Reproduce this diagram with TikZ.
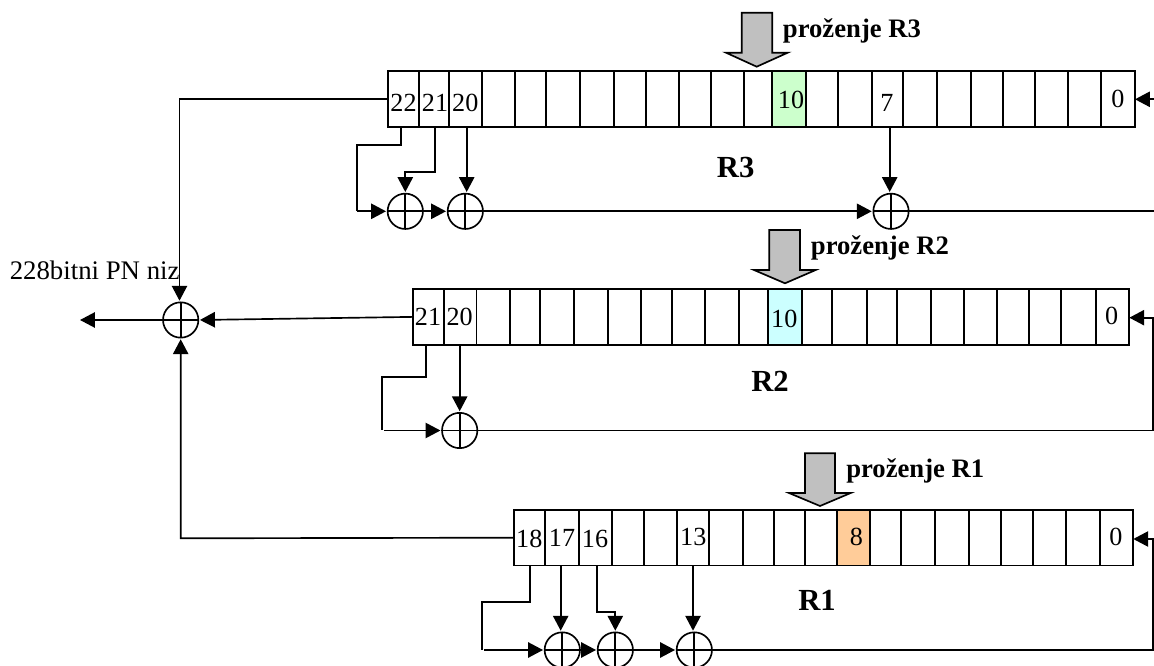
\documentclass[tikz,border=0pt]{standalone}
\usepackage{fontspec}
\setmainfont{Liberation Serif}
\usetikzlibrary{arrows.meta}
\newcommand{\regfont}{\fontsize{19.6}{22}\selectfont}
\newcommand{\pnfont}{\fontsize{20.1}{22}\selectfont}
\newcommand{\trigfont}{\fontsize{20}{23}\bfseries\selectfont}
\newcommand{\namefont}{\fontsize{23}{27}\bfseries\selectfont}
\definecolor{bitorange}{HTML}{FFCC99}
\definecolor{bitgreen}{HTML}{CCFFCC}
\definecolor{bitcyan}{HTML}{CCFFFF}
\definecolor{triggray}{HTML}{C0C0C0}
\tikzset{
  x=0.75pt,y=-0.75pt,
  wire/.style={line width=1.25pt,line join=miter},
  arrowwire/.style={wire,-{Triangle[length=11.2pt,width=11.5pt]},shorten >=1.2pt},
  cellbox/.style={draw,line width=1.25pt,inner sep=0pt,outer sep=0pt},
  xorgate/.style={circle,draw,line width=1.25pt,minimum size=26.5pt,inner sep=0pt,outer sep=0pt,
    path picture={\draw[line width=1.25pt]
      (path picture bounding box.north)--(path picture bounding box.south)
      (path picture bounding box.west)--(path picture bounding box.east);}},
  trigarrow/.style={draw,line width=1.25pt,fill=triggray,line join=miter},
  numlabel/.style={anchor=base,inner sep=0pt,font=\regfont},
  triglabel/.style={anchor=base west,inner sep=0pt,font=\trigfont},
  namelabel/.style={anchor=base,inner sep=0pt,font=\namefont},
}
\begin{document}
\begin{tikzpicture}
\path[use as bounding box,clip] (0,0) rectangle (1154,666);
\fill[white] (0,0) rectangle (1154,666);

% ---- registers: cells as named nodes
\foreach \xa/\xb/\k/\col in {
 388/418.7/22/white,418.7/449.3/21/white,449.3/481.7/20/white,481.7/515.3/19/white,515.3/546.3/18/white,
 546.3/579.7/17/white,579.7/613.7/16/white,613.7/646/15/white,646/678.7/14/white,678.7/710.7/13/white,
 710.7/744.3/12/white,744.3/772.3/11/white,772.3/805.7/10/bitgreen,805.7/838.3/9/white,838.3/872.3/8/white,
 872.3/902.7/7/white,902.7/936.7/6/white,936.7/970.7/5/white,970.7/1002.7/4/white,1002.7/1035/3/white,
 1035/1067.7/2/white,1067.7/1101.3/1/white,1101.3/1135/0/white}
  \node[cellbox,fill=\col,minimum width={(\xb-\xa)*0.75pt},minimum height={56*0.75pt}]
    (r3c\k) at ({(\xa+\xb)/2},98.7) {};
\foreach \xa/\xb/\k/\col in {
 412.7/443.7/21/white,443.7/476.5/20/white,476.5/510/19/white,510/540.3/18/white,540.3/574/17/white,
 574/607.7/16/white,607.7/640.7/15/white,640.7/672.3/14/white,672.3/705.3/13/white,705.3/738.7/12/white,
 738.7/767.7/11/white,767.7/801.7/10/bitcyan,801.7/832.3/9/white,832.3/866.7/8/white,866.7/896.7/7/white,
 896.7/930.7/6/white,930.7/964.3/5/white,964.3/997.3/4/white,997.3/1028.7/3/white,1028.7/1061.3/2/white,
 1061.3/1096/1/white,1096/1129.3/0/white}
  \node[cellbox,fill=\col,minimum width={(\xb-\xa)*0.75pt},minimum height={55.7*0.75pt}]
    (r2c\k) at ({(\xa+\xb)/2},316.9) {};
\foreach \xa/\xb/\k/\col in {
 513.7/544.7/18/white,544.7/578.7/17/white,578.7/612/16/white,612/644.3/15/white,644.3/677/14/white,
 677/709/13/white,709/742.7/12/white,742.7/773.7/11/white,773.7/805/10/white,805/837.2/9/white,
 837.2/870.3/8/bitorange,870.3/901.3/7/white,901.3/934.7/6/white,934.7/969/5/white,969/1001.3/4/white,
 1001.3/1033.3/3/white,1033.3/1065.7/2/white,1065.7/1100/1/white,1100/1133.3/0/white}
  \node[cellbox,fill=\col,minimum width={(\xb-\xa)*0.75pt},minimum height={55.3*0.75pt}]
    (r1c\k) at ({(\xa+\xb)/2},537.7) {};

% ---- cell numbers
\node[numlabel] (t322) at (403.5,111.7) {22};
\node[numlabel] (t321) at (435,111.7) {21};
\node[numlabel] (t320) at (465.3,111.7) {20};
\node[numlabel] (t310) at (791,109) {10};
\node[numlabel] (t37) at (887,111.7) {7};
\node[numlabel] (t30) at (1118,107.3) {0};
\node[numlabel] (t221) at (428,325.7) {21};
\node[numlabel] (t220) at (459.7,325.7) {20};
\node[numlabel] (t210) at (784.3,327.3) {10};
\node[numlabel] (t20) at (1111.7,325) {0};
\node[numlabel] (t118) at (529.3,547.3) {18};
\node[numlabel] (t117) at (562,546.7) {17};
\node[numlabel] (t116) at (595,547.3) {16};
\node[numlabel] (t113) at (693.3,546) {13};
\node[numlabel] (t18) at (856.3,546) {8};
\node[numlabel] (t10) at (1116,546) {0};

% ---- register names and trigger labels
\node[namelabel] (nr3) at (735.7,177.7) {R3};
\node[namelabel] (nr2) at (770,391.7) {R2};
\node[namelabel] (nr1) at (817,610.7) {R1};
\node[triglabel] (tr3) at (782.7,38) {proženje R3};
\node[triglabel] (tr2) at (810.7,255) {proženje R2};
\node[triglabel] (tr1) at (846,478) {proženje R1};
\node[anchor=base west,inner sep=0pt,font=\pnfont] (pn) at (9.5,279.3) {228bitni PN niz};

% ---- trigger arrows
\draw[trigarrow] (741.7,12.7)--(772.3,12.7)--(772.3,52.7)--(787.7,52.7)--(756.7,66.7)--(726,52.7)--(741.7,52.7)--cycle;
\draw[trigarrow] (769.3,230)--(800,230)--(800,270)--(815.7,270)--(785,283.3)--(754,270)--(769.3,270)--cycle;
\draw[trigarrow] (805,453.3)--(835,453.3)--(835,493)--(850.7,493)--(820,506)--(789,493)--(805,493)--cycle;

% ---- XOR gates
\node[xorgate] (xm) at (180.7,320) {};
\node[xorgate] (x3a) at (405.3,211.3) {};
\node[xorgate] (x3b) at (465.3,211.3) {};
\node[xorgate] (x3c) at (891,211.3) {};
\node[xorgate] (x2a) at (459.7,430.5) {};
\node[xorgate] (x1a) at (562.3,650) {};
\node[xorgate] (x1b) at (615.3,650) {};
\node[xorgate] (x1c) at (694.3,650) {};

% ---- free ends and bends
\coordinate (out3) at (179.5,98.7);
\coordinate (outm) at (80,320);
\coordinate (in1) at (180.7,538.3);
\coordinate (a3) at (401,145);
\coordinate (b3) at (356.7,145);
\coordinate (c3) at (356.7,211.3);
\coordinate (d3) at (435,171.7);
\coordinate (e3) at (405.3,171.7);
\coordinate (k20) at (466.7,193.6);
\coordinate (k7) at (889.7,193.6);
\coordinate (f3) at (1154,211.3);
\coordinate (g3) at (1154,99.3);
\coordinate (a2) at (426,376.7);
\coordinate (b2) at (381.7,376.7);
\coordinate (c2) at (381.7,430);
\coordinate (s2) at (384.3,430.5);
\coordinate (f2) at (1152.7,430.5);
\coordinate (g2) at (1152.7,317.7);
\coordinate (h2) at (1129.3,317.7);
\coordinate (a1) at (530.3,601.7);
\coordinate (b1) at (481.7,601.7);
\coordinate (c1) at (481.7,650);
\coordinate (s1) at (484.3,650);
\coordinate (d1) at (597.3,611.7);
\coordinate (e1) at (615.3,611.7);
\coordinate (k17) at (560.7,632.3);
\coordinate (k13) at (693,632.3);
\coordinate (f1) at (1152.7,650);
\coordinate (g1) at (1152.7,539);

% ---- main combiner
\draw[arrowwire] (r3c22.west) -- (out3) -- (out3 |- xm.north);
\draw[arrowwire] (r2c21.west) -- (xm.east);
\draw[arrowwire] (r1c18.west) -- (in1) -- (xm.south);
\draw[wire,-{Triangle[length=11.2pt,width=11.5pt]}] (xm.west) -- (outm);

% ---- R3 feedback
\draw[wire] (a3 |- r3c22.south) -- (a3) -- (b3) -- (c3);
\draw[arrowwire] (c3) -- (x3a.west);
\draw[arrowwire] (d3 |- r3c21.south) -- (d3) -- (e3) -- (x3a.north);
\draw[arrowwire] (k20 |- r3c20.south) -- (k20);
\draw[arrowwire] (x3a.east) -- (x3b.west);
\draw[arrowwire] (x3b.east) -- (x3c.west);
\draw[arrowwire] (k7 |- r3c7.south) -- (k7);
\draw[wire] (x3c.east) -- (f3);
\draw[wire,-{Triangle[length=11.2pt,width=11.5pt]}] (g3) -- (g3 -| r3c0.east);

% ---- R2 feedback
\draw[wire] (a2 |- r2c21.south) -- (a2) -- (b2) -- (c2);
\draw[arrowwire] (s2) -- (x2a.west);
\draw[arrowwire] (x2a.north |- r2c20.south) -- (x2a.north);
\draw[wire,-{Triangle[length=11.2pt,width=11.5pt]}] (x2a.east) -- (f2) -- (g2) -- (h2);

% ---- R1 feedback
\draw[wire] (a1 |- r1c18.south) -- (a1) -- (b1) -- (c1);
\draw[arrowwire] (s1) -- (x1a.west);
\draw[arrowwire] (k17 |- r1c17.south) -- (k17);
\draw[arrowwire] (d1 |- r1c16.south) -- (d1) -- (e1) -- (x1b.north);
\draw[arrowwire] (x1a.east) -- (x1b.west);
\draw[arrowwire] (x1b.east) -- (x1c.west);
\draw[arrowwire] (k13 |- r1c13.south) -- (k13);
\draw[wire,-{Triangle[length=11.2pt,width=11.5pt]}] (x1c.east) -- (f1) -- (g1) -- (g1 -| r1c0.east);
\end{tikzpicture}
\end{document}
